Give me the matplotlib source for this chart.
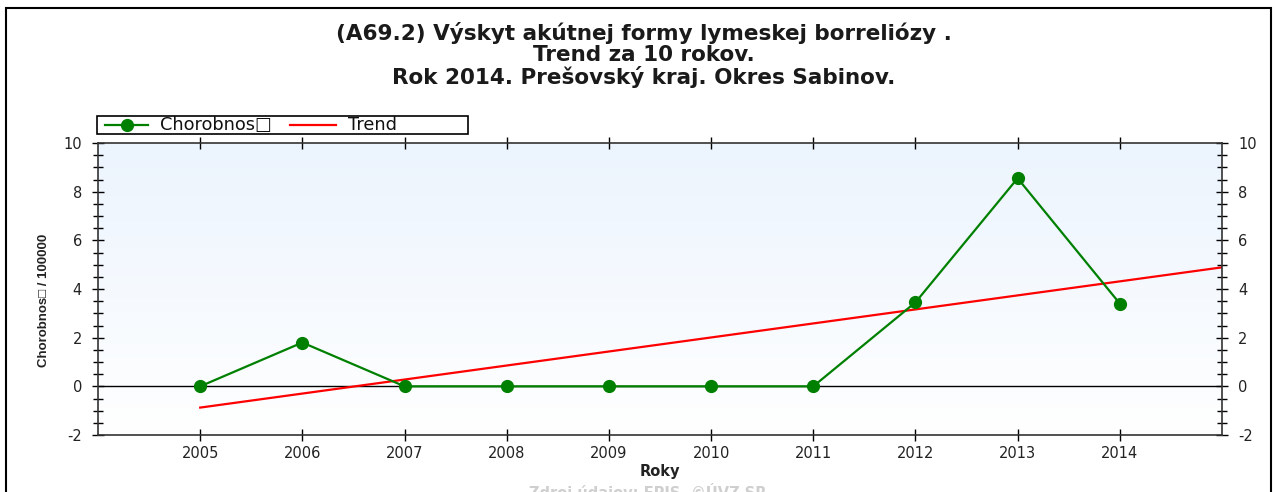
import numpy as np
import matplotlib
matplotlib.use('Agg')
from matplotlib import pyplot as plt
from matplotlib.patches import Rectangle
from matplotlib.lines import Line2D
from matplotlib.ticker import MultipleLocator

plt.rcParams['font.family'] = ['DejaVu Sans']

years = [2005, 2006, 2007, 2008, 2009, 2010, 2011, 2012, 2013, 2014]
chorobnost = [0.0, 1.8, 0.0, 0.0, 0.0, 0.0, 0.0, 3.45, 8.55, 3.4]
title = '(A69.2) Výskyt akútnej formy lymeskej borreliózy .\nTrend za 10 rokov.\nRok 2014. Prešovský kraj. Okres Sabinov.'

# linear trend over the 10 years, drawn out to the right edge
k, q = np.polyfit(years, chorobnost, 1)
trend_x = np.array([years[0], years[-1] + 1])
trend_y = k * trend_x + q

W, H = 1275, 492
fig = plt.figure(figsize=(W/100, H/100), dpi=100)
ax = fig.add_axes([98/W, 1 - 435/H, (1222-98)/W, (435-143)/H])

ax.set_xlim(2004, 2015)
ax.set_ylim(-2, 10)

# soft blue gradient background
grad = np.linspace(1, 0, 256).reshape(-1, 1)
top = np.array([0.925, 0.957, 0.995])
bot = np.array([1.0, 1.0, 1.0])
img = bot + (top - bot) * grad[..., None]
ax.imshow(img.reshape(256, 1, 3), extent=[2004, 2015, -2, 10], aspect='auto', zorder=0)

ax.axhline(0, color='black', lw=1, zorder=1)
ax.plot(years, chorobnost, color='#008000', lw=1.6, marker='o', ms=8.5, zorder=3)
ax.plot(trend_x, trend_y, color='#ff0000', lw=1.6, zorder=2)

ax.set_xticks(years)
ax.set_xticklabels([str(y) for y in years])
ax.yaxis.set_major_locator(MultipleLocator(2))
ax.yaxis.set_minor_locator(MultipleLocator(0.5))
ax.yaxis.set_major_formatter(plt.FuncFormatter(lambda v, p: '%d' % v))
ax.tick_params(axis='both', which='major', direction='inout', length=9, width=1,
               labelsize=10.5, color='black', top=True, right=True, labelright=True,
               labelcolor='#222222')
ax.tick_params(axis='y', which='minor', direction='inout', length=7, width=1,
               right=True, left=True)
ax.tick_params(axis='y', pad=7)
for s in ax.spines.values():
    s.set_color('#333333')
    s.set_linewidth(1.2)

ax.set_xlabel('Roky', fontsize=10.5, fontweight='bold', labelpad=2, color='#222222')
ax.set_ylabel('Chorobnos\u25a1 / 100000', fontsize=9.5, fontweight='bold',
              family=['Liberation Sans', 'DejaVu Sans'], color='#222222')
ax.yaxis.set_label_coords(-48/1124, (435-300)/292)

fig.text(0.5 + 6/W, 1 - 55/H, title, ha='center', va='center', fontsize=15.5,
         fontweight='bold', linespacing=1.05, color='#1a1a1a')

# legend box drawn by hand above the plot
fig.patches.append(Rectangle((97/W, 1 - 134/H), (468-97)/W, 18/H, transform=fig.transFigure,
                             facecolor='white', edgecolor='black', lw=1.2))
ly = 1 - 125/H
fig.lines.append(Line2D([105/W, 148/W], [ly, ly], transform=fig.transFigure,
                        color='#008000', lw=1.6))
fig.lines.append(Line2D([126.5/W], [ly], transform=fig.transFigure,
                        color='#008000', marker='o', ms=8.5, ls='none'))
fig.text(160/W, ly, 'Chorobnos\u25a1', ha='left', va='center', fontsize=12.8, color='#111111')
fig.lines.append(Line2D([290/W, 336/W], [ly, ly], transform=fig.transFigure,
                        color='#ff0000', lw=1.6))
fig.text(348/W, ly, 'Trend', ha='left', va='center', fontsize=12.8, color='#111111')

fig.text(0.5 + 10/W, 0.0, 'Zdroj údajov: EPIS, ©ÚVZ SR', ha='center', va='center',
         fontsize=10.5, fontweight='bold', color='#cfcfcf')

fig.patches.append(Rectangle((6/W, -0.1), 1 - 10/W, 1.1 - 8/H, transform=fig.transFigure,
                             fill=False, edgecolor='black', lw=1.5))

fig.savefig('out.png', dpi=100)
